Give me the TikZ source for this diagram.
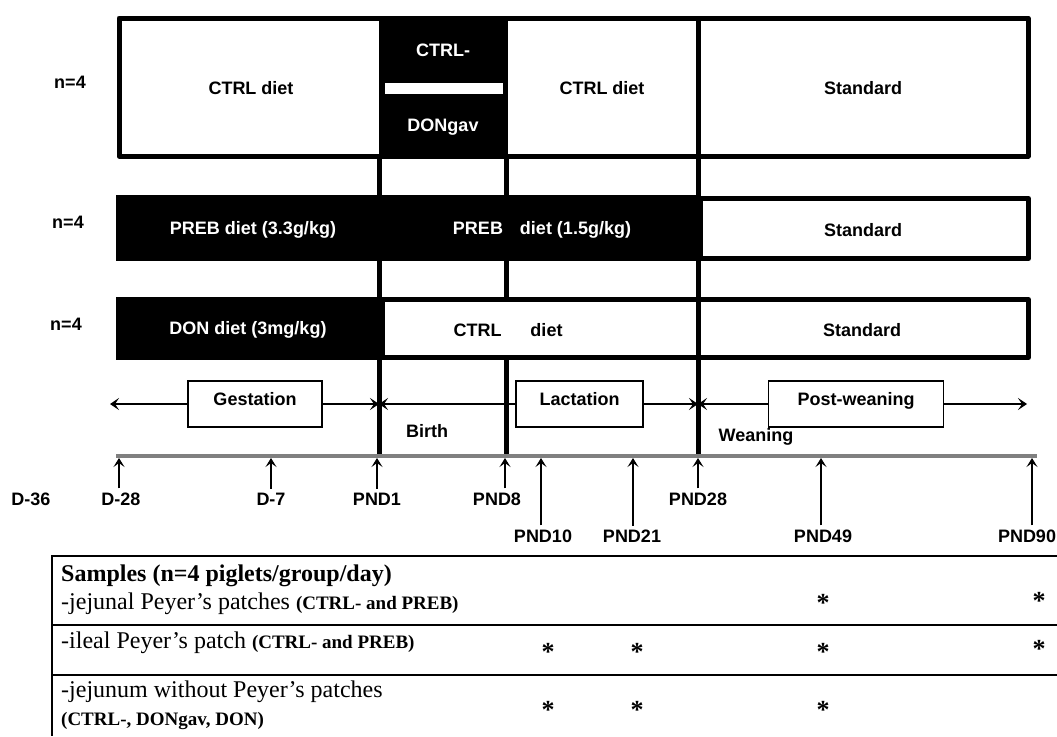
\documentclass[tikz,border=0pt]{standalone}
\usepackage{fontspec}
\setmainfont{Liberation Serif}
\setsansfont{Liberation Sans}
\usetikzlibrary{arrows.meta,positioning,calc}

\newcommand{\grp}[1]{{\bfseries\fontsize{19}{21}\selectfont #1}}

\tikzset{
  lbl/.style={font=\sffamily\bfseries\fontsize{18}{20}\selectfont, inner sep=0pt},
  lblw/.style={lbl, text=white},
  ticklbl/.style={lbl, inner sep=4pt},
  phasebox/.style={draw, line width=1.3pt, lbl, minimum height=46pt,
    text height=13pt, text depth=11pt},
  wall/.style={line width=5pt, line join=round},
  tick/.style={line width=1.3pt, -{Stealth[length=9pt,width=11pt,inset=4pt]}},
  phase/.style={line width=1.3pt, -{Stealth[length=9pt,width=12pt,inset=4pt]}},
  tabtxt/.style={font=\fontsize{24}{26}\selectfont, inner sep=0pt, anchor=west},
  star/.style={font=\bfseries\fontsize{26}{28}\selectfont, inner sep=0pt},
}

\begin{document}
\begin{tikzpicture}[x=1pt, y=-1pt]
\useasboundingbox (0,0) rectangle (1057,736);

\foreach \x in {379,506,698}{\draw[wall] (\x,156) -- (\x,456);}

\draw[wall] (119,18) rectangle (1028,156);
\fill (379,15.5) rectangle (508,158.5);
\fill[white] (385,83) rectangle (503,94);
\draw[wall] (698,18) -- (698,156);

\fill (116,195) rectangle (700,261);
\draw[wall] (700.5,198.5) rectangle (1028.5,258.5);

\fill (116,297) rectangle (385,360);
\filldraw[wall, fill=white] (382.5,299.5) rectangle (1028.5,357.5);
\draw[wall] (698,299.5) -- (698,357.5);

\node[lbl]  (n1) at (70,82)  {n=4};
\node[lbl]  (n2) at (68,222) {n=4};
\node[lbl]  (n3) at (66,324) {n=4};

\node[lbl]  (ctrlA)  at (251,88)  {CTRL diet};
\node[lblw] (ctrlm)  at (443,50)  {CTRL-};
\node[lblw] (dongav) at (443,127) {DONgav};
\node[lbl]  (ctrlB)  at (602,88)  {CTRL diet};
\node[lbl]  (stdA)   at (863,88)  {Standard};

\node[lblw] (prebA) at (253,230) {PREB diet (3.3g/kg)};
\node[lblw] (prebB) at (542,230) {PREB\hspace{17pt}diet (1.5g/kg)};
\node[lbl]  (stdB)  at (863,230) {Standard};

\node[lblw] (don)   at (248,330) {DON diet (3mg/kg)};
\node[lbl]  (ctrlC) at (508,330) {CTRL\hspace{29pt}diet};
\node[lbl]  (stdC)  at (862,330) {Standard};

\coordinate (gl)    at (110,404);
\coordinate (birth) at (379,404);
\coordinate (wean)  at (698,404);
\coordinate (gr)    at (1027,404);
\node[phasebox, minimum width=134pt] (gest)  at (255,404)   {Gestation};
\node[phasebox, minimum width=127pt] (lact)  at (579.5,404) {Lactation};
\node[phasebox, minimum width=175pt] (postw) at (856,404)   {Post-weaning};
\draw[phase] (gest.west)  -- (gl);
\draw[phase] (gest.east)  -- (birth);
\draw[phase] (lact.west)  -- (birth);
\draw[phase] (lact.east)  -- (wean);
\draw[phase] (postw.west) -- (wean);
\draw[phase] (postw.east) -- (gr);

\node[lbl] (birthlbl) at (427,431) {Birth};
\node[lbl] (weanlbl)  at (756,437) {Weaning};

\draw[line width=3.5pt, black!50] (116,456) -- (1037,456);

\node[ticklbl] (d36)   at (31,499)   {D-36};
\node[ticklbl] (d28)   at (121,499)  {D-28};
\node[ticklbl] (d7)    at (271,499)  {D-7};
\node[ticklbl] (pnd1)  at (377,499)  {PND1};
\node[ticklbl] (pnd8)  at (497,499)  {PND8};
\node[ticklbl] (pnd28) at (698,499)  {PND28};
\node[ticklbl] (pnd10) at (543,536)  {PND10};
\node[ticklbl] (pnd21) at (632,536)  {PND21};
\node[ticklbl] (pnd49) at (823,536)  {PND49};
\node[ticklbl] (pnd90) at (1027,536) {PND90};
\foreach \n/\x in {d28/119,d7/271,pnd1/377,pnd8/505,pnd10/541,pnd21/633,pnd28/698,pnd49/821,pnd90/1032}{
  \coordinate (t\n) at (\x,458);
  \draw[tick] (t\n |- \n.north) -- (t\n);
}

\draw[line width=1.2pt] (1057,556) -- (52,556) -- (52,736);
\draw[line width=1.2pt] (52,625) -- (1057,625);
\draw[line width=1.2pt] (52,675) -- (1057,675);

\node[tabtxt] (samp)  at (61,576) {\bfseries Samples (n=4 piglets/group/day)};
\node[tabtxt] (jejpp) at (61,604) {-jejunal Peyer's patches \grp{(CTRL- and PREB)}};
\node[tabtxt] (ilpp)  at (61,643) {-ileal Peyer's patch \grp{(CTRL- and PREB)}};
\node[tabtxt] (jejun) at (61,692) {-jejunum without Peyer's patches};
\node[tabtxt] (jejgr) at (61,721) {\grp{(CTRL-, DONgav, DON)}};

\foreach \x/\y in {823/603,1039/601,548/652,637/652,823/652,1039/649,548/710,637/710,823/710}{
  \node[star] (st-\x-\y) at (\x,\y) {*};
}
\end{tikzpicture}
\end{document}
